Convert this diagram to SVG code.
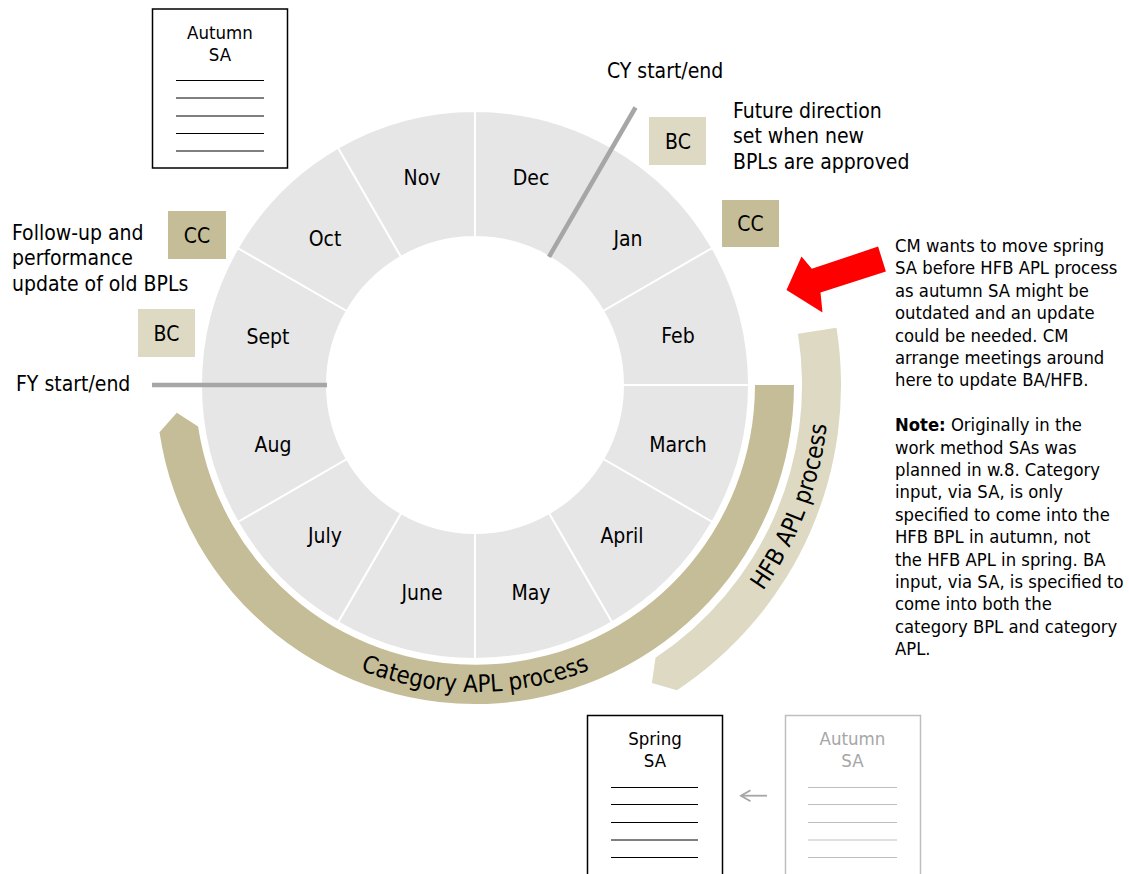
<svg xmlns="http://www.w3.org/2000/svg" width="1129" height="874" viewBox="0 0 1129 874">
  <defs>
    <style>
      text { font-family: "DejaVu Sans Condensed", "DejaVu Sans", sans-serif; fill: #000; }
      .month path { fill: #E6E6E6; stroke: #FFFFFF; stroke-width: 2; }
      .month text { font-size: 21px; text-anchor: middle; }
      .lbl { font-size: 21px; }
      .tag text { font-size: 21px; text-anchor: middle; }
      .cc { fill: #C4BD97; }
      .bc { fill: #DDD9C3; }
      .para { font-size: 18.3px; }
      .doc rect { fill: #FFFFFF; stroke: #000; stroke-width: 1.5; }
      .doc line { stroke: #000; stroke-width: 1; }
      .doc text { font-size: 18.5px; text-anchor: middle; }
      .doc.faded rect { stroke: #BFBFBF; }
      .doc.faded line { stroke: #BFBFBF; }
      .doc.faded text { fill: #A6A6A6; }
      .yearline { stroke: #A6A6A6; stroke-width: 4.5; fill: none; }
      .arctext { font-size: 24px; }
      .greyarrow { stroke: #A6A6A6; stroke-width: 1.8; fill: none; }
    </style>
    <path id="catTextPath" d="M209.1,538.5 A307,307 0 0 0 740.9,538.5"/>
    <path id="hfbTextPath" d="M672.9,678.5 A354,354 0 0 0 818.5,299.4"/>
  </defs>

  <!-- year wheel: twelve month sectors -->
  <g id="wheel">
    <g id="month-dec" class="month"><path d="M475,111 A274,274 0 0 1 612,147.71 L549,256.83 A148,148 0 0 0 475,237 Z"/><text x="531" y="185">Dec</text></g>
    <g id="month-jan" class="month"><path d="M612,147.71 A274,274 0 0 1 712.29,248 L603.17,311 A148,148 0 0 0 549,256.83 Z"/><text x="628" y="246">Jan</text></g>
    <g id="month-feb" class="month"><path d="M712.29,248 A274,274 0 0 1 749,385 L623,385 A148,148 0 0 0 603.17,311 Z"/><text x="678" y="343">Feb</text></g>
    <g id="month-mar" class="month"><path d="M749,385 A274,274 0 0 1 712.29,522 L603.17,459 A148,148 0 0 0 623,385 Z"/><text x="678" y="452">March</text></g>
    <g id="month-apr" class="month"><path d="M712.29,522 A274,274 0 0 1 612,622.29 L549,513.17 A148,148 0 0 0 603.17,459 Z"/><text x="622" y="543">April</text></g>
    <g id="month-may" class="month"><path d="M612,622.29 A274,274 0 0 1 475,659 L475,533 A148,148 0 0 0 549,513.17 Z"/><text x="531" y="600">May</text></g>
    <g id="month-jun" class="month"><path d="M475,659 A274,274 0 0 1 338,622.29 L401,513.17 A148,148 0 0 0 475,533 Z"/><text x="422" y="600">June</text></g>
    <g id="month-jul" class="month"><path d="M338,622.29 A274,274 0 0 1 237.71,522 L346.83,459 A148,148 0 0 0 401,513.17 Z"/><text x="325" y="543">July</text></g>
    <g id="month-aug" class="month"><path d="M237.71,522 A274,274 0 0 1 201,385 L327,385 A148,148 0 0 0 346.83,459 Z"/><text x="273" y="452">Aug</text></g>
    <g id="month-sep" class="month"><path d="M201,385 A274,274 0 0 1 237.71,248 L346.83,311 A148,148 0 0 0 327,385 Z"/><text x="268" y="344">Sept</text></g>
    <g id="month-oct" class="month"><path d="M237.71,248 A274,274 0 0 1 338,147.71 L401,256.83 A148,148 0 0 0 346.83,311 Z"/><text x="325" y="246">Oct</text></g>
    <g id="month-nov" class="month"><path d="M338,147.71 A274,274 0 0 1 475,111 L475,237 A148,148 0 0 0 401,256.83 Z"/><text x="422" y="185">Nov</text></g>
  </g>

  <!-- process bands around the wheel -->
  <g id="category-apl-process">
    <path class="cc" d="M794,385 A319,319 0 0 1 159.5,432.2 L176.8,412.7 L198.1,426.4 A280,280 0 0 0 755,385 Z"/>
    <text class="arctext"><textPath href="#catTextPath" startOffset="50%" text-anchor="middle">Category APL process</textPath></text>
  </g>
  <g id="hfb-apl-process">
    <path class="bc" d="M836.5,327.7 A366,366 0 0 1 677,690.2 L651.9,682.9 L655.5,657.7 A327,327 0 0 0 798,333.8 Z"/>
    <text class="arctext"><textPath href="#hfbTextPath" startOffset="50%" text-anchor="middle">HFB APL process</textPath></text>
  </g>

  <!-- year boundary markers -->
  <g id="cy-marker">
    <line class="yearline" x1="549" y1="256.8" x2="635.5" y2="107.5"/>
    <text class="lbl" x="607" y="78">CY start/end</text>
  </g>
  <g id="fy-marker">
    <line class="yearline" x1="152" y1="385" x2="327" y2="385"/>
    <text class="lbl" x="16" y="391">FY start/end</text>
  </g>

  <!-- BC / CC tags -->
  <g id="tag-bc-top" class="tag"><rect class="bc" x="649" y="117" width="57" height="48"/><text x="678" y="149">BC</text></g>
  <g id="tag-cc-right" class="tag"><rect class="cc" x="722" y="200" width="57" height="47"/><text x="750.5" y="231">CC</text></g>
  <g id="tag-cc-left" class="tag"><rect class="cc" x="168" y="211" width="58" height="48"/><text x="197" y="242.5">CC</text></g>
  <g id="tag-bc-left" class="tag"><rect class="bc" x="138" y="309" width="57" height="48"/><text x="166.5" y="340.5">BC</text></g>

  <!-- explanatory notes -->
  <g id="note-future">
    <text class="lbl" x="733" y="117.5">Future direction</text>
    <text class="lbl" x="733" y="143">set when new</text>
    <text class="lbl" x="733" y="168.5">BPLs are approved</text>
  </g>
  <g id="note-followup">
    <text class="lbl" x="12" y="239.5">Follow-up and</text>
    <text class="lbl" x="12" y="265">performance</text>
    <text class="lbl" x="12" y="290.5">update of old BPLs</text>
  </g>
  <g id="note-cm" class="para">
    <text x="895" y="252">CM wants to move spring</text>
    <text x="895" y="274.4">SA before HFB APL process</text>
    <text x="895" y="296.8">as autumn SA might be</text>
    <text x="895" y="319.2">outdated and an update</text>
    <text x="895" y="341.6">could be needed. CM</text>
    <text x="895" y="364">arrange meetings around</text>
    <text x="895" y="386.4">here to update BA/HFB.</text>
    <text x="895" y="431.2"><tspan font-weight="bold">Note:</tspan> Originally in the</text>
    <text x="895" y="453.6">work method SAs was</text>
    <text x="895" y="476">planned in w.8. Category</text>
    <text x="895" y="498.4">input, via SA, is only</text>
    <text x="895" y="520.8">specified to come into the</text>
    <text x="895" y="543.2">HFB BPL in autumn, not</text>
    <text x="895" y="565.6">the HFB APL in spring. BA</text>
    <text x="895" y="588">input, via SA, is specified to</text>
    <text x="895" y="610.4">come into both the</text>
    <text x="895" y="632.8">category BPL and category</text>
    <text x="895" y="655.2">APL.</text>
  </g>

  <!-- SA documents -->
  <g id="doc-autumn-sa" class="doc">
    <rect x="152.5" y="9" width="135" height="159"/>
    <text x="220" y="38.5">Autumn</text>
    <text x="220" y="60.5">SA</text>
    <line x1="176" y1="80.5" x2="264" y2="80.5"/>
    <line x1="176" y1="98" x2="264" y2="98"/>
    <line x1="176" y1="116" x2="264" y2="116"/>
    <line x1="176" y1="133.5" x2="264" y2="133.5"/>
    <line x1="176" y1="151" x2="264" y2="151"/>
  </g>
  <g id="doc-spring-sa" class="doc">
    <rect x="587.5" y="715.5" width="135" height="170"/>
    <text x="655" y="745">Spring</text>
    <text x="655" y="767">SA</text>
    <line x1="611" y1="787.5" x2="698" y2="787.5"/>
    <line x1="611" y1="804.5" x2="698" y2="804.5"/>
    <line x1="611" y1="822.5" x2="698" y2="822.5"/>
    <line x1="611" y1="840" x2="698" y2="840"/>
    <line x1="611" y1="857.5" x2="698" y2="857.5"/>
  </g>
  <g id="doc-autumn-sa-old" class="doc faded">
    <rect x="785.5" y="715.5" width="135" height="170"/>
    <text x="852.5" y="745">Autumn</text>
    <text x="852.5" y="767">SA</text>
    <line x1="808" y1="787.5" x2="897" y2="787.5"/>
    <line x1="808" y1="804.5" x2="897" y2="804.5"/>
    <line x1="808" y1="822.5" x2="897" y2="822.5"/>
    <line x1="808" y1="840" x2="897" y2="840"/>
    <line x1="808" y1="857.5" x2="897" y2="857.5"/>
  </g>

  <!-- connectors -->
  <g id="connectors">
    <path id="red-arrow" d="M878.1,246.6 L885.9,271.4 L820.5,292.5 L822.5,312.5 L786.5,290 L801.5,256.5 L811.8,268.8 Z" fill="#FF0000"/>
    <g id="sa-replace-arrow">
      <line class="greyarrow" x1="767" y1="795.7" x2="741.5" y2="795.7"/>
      <polyline class="greyarrow" points="750.5,790.2 741,795.7 750.5,801.2"/>
    </g>
  </g>
</svg>
